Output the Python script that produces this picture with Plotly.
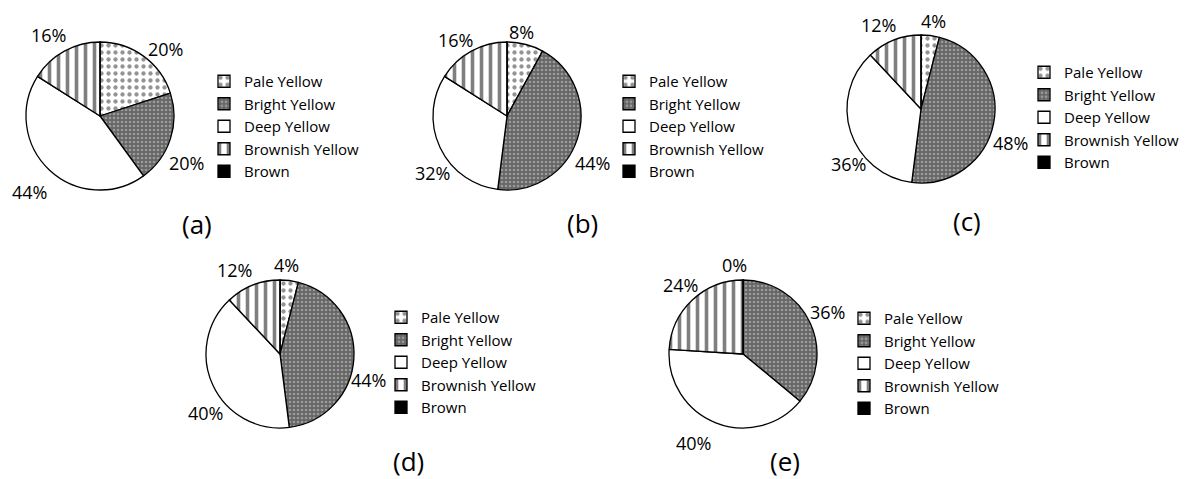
import plotly.graph_objects as go

# Colour classes shared by all five panels
categories = ["Pale Yellow", "Bright Yellow", "Deep Yellow", "Brownish Yellow", "Brown"]

# Share (%) of each colour class per panel
share_a = [20, 20, 44, 16, 0]
share_b = [8, 44, 32, 16, 0]
share_c = [4, 48, 36, 12, 0]
share_d = [4, 44, 40, 12, 0]
share_e = [0, 36, 40, 24, 0]

panel_names = ["(a)", "(b)", "(c)", "(d)", "(e)"]
panel_shares = [share_a, share_b, share_c, share_d, share_e]

W, H = 1193, 479
FONT = "'Open Sans', sans-serif"

# pixel layout: pie centre, legend top-left, caption centre
panel_layout = [
    dict(cx=100, cy=116, legx=204, legy=65, capx=197, capy=224),
    dict(cx=507, cy=116, legx=609, legy=65, capx=582, capy=223),
    dict(cx=921, cy=109, legx=1024, legy=56, capx=967, capy=221),
    dict(cx=280, cy=354, legx=381, legy=301, capx=408, capy=461),
    dict(cx=743, cy=354, legx=844, legy=302, capx=785, capy=461),
]
R = 74

# pixel centres of the value labels (best-fit placement around each pie);
# the Brown slice is never labelled
label_spots = [
    [(165, 49), (186, 163), (29, 192), (48, 35)],
    [(521, 32), (592, 163), (433, 173), (455, 40)],
    [(933, 21), (1010, 143), (848, 164), (878, 25)],
    [(286, 265), (368, 380), (205, 413), (235, 270)],
    [(734, 265), (827, 312), (693, 443), (680, 285)],
]

# black-and-white fills per category
fill_bg = ["white", "#666666", "white", "white", "black"]
fill_fg = ["#2a2a2a", "#cfcfcf", "white", "#000000", "black"]
fill_shape = [".", ".", "", "|", ""]
fill_size = [7, 4, 8, 9, 8]
fill_solid = [0.3, 0.35, 0.3, 0.4, 0.3]

fig = go.Figure()
for i, (name, shares, pl, spots) in enumerate(
        zip(panel_names, panel_shares, panel_layout, label_spots)):
    legend_id = "legend" if i == 0 else f"legend{i + 1}"
    # zero-width suffix keeps each panel's legend entries separate
    labels = [c + "\u200b" * i for c in categories]
    fig.add_trace(go.Pie(
        labels=labels,
        values=shares,
        sort=False,
        direction="clockwise",
        rotation=0,
        textinfo="none",
        marker=dict(
            colors=fill_bg,
            line=dict(color="black", width=1.3),
            pattern=dict(shape=fill_shape, fgcolor=fill_fg, bgcolor=fill_bg,
                         size=fill_size, solidity=fill_solid, fillmode="overlay"),
        ),
        domain=dict(x=[(pl["cx"] - R) / W, (pl["cx"] + R) / W],
                    y=[1 - (pl["cy"] + R) / H, 1 - (pl["cy"] - R) / H]),
        legend=legend_id,
        showlegend=True,
        hoverinfo="label+value",
    ))
    fig.update_layout({legend_id: dict(
        x=pl["legx"] / W, y=1 - pl["legy"] / H, xanchor="left", yanchor="top",
        font=dict(family=FONT, size=15, color="black"),
        bgcolor="rgba(0,0,0,0)", borderwidth=0,
        itemclick=False, itemdoubleclick=False,
    )})
    # value labels
    for v, (lx, ly) in zip(shares[:4], spots):
        fig.add_annotation(
            x=lx / W, y=1 - ly / H, xref="paper", yref="paper",
            text=f"{v}%", showarrow=False, xanchor="center", yanchor="middle",
            font=dict(family=FONT, size=18, color="black"),
        )
    # panel caption
    fig.add_annotation(
        x=pl["capx"] / W, y=1 - pl["capy"] / H, xref="paper", yref="paper",
        text=name, showarrow=False, xanchor="center", yanchor="middle",
        font=dict(family=FONT, size=26, color="black"),
    )

fig.update_layout(
    width=W, height=H,
    margin=dict(l=0, r=0, t=0, b=0),
    paper_bgcolor="white",
    plot_bgcolor="white",
)

fig.write_html("out.html")
